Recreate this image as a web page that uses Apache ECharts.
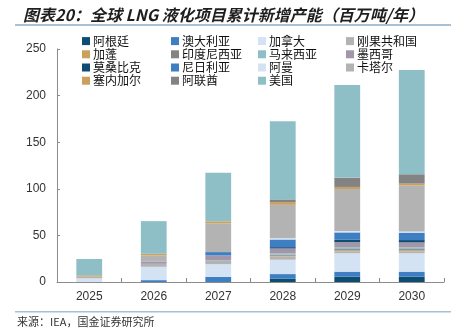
<!DOCTYPE html>
<html>
<head>
<meta charset="utf-8">
<script src="https://cdn.jsdelivr.net/npm/echarts@6/dist/echarts.min.js"></script>
<style>
html,body{margin:0;padding:0;background:#fff;}
#c{width:458px;height:329px;}
</style>
</head>
<body>
<div id="c"></div>
<script>
const years = ['2025','2026','2027','2028','2029','2030'];
const yTicks = [0, 50, 100, 150, 200, 250];
const names = ['阿根廷','澳大利亚','加拿大','刚果共和国','加蓬','印度尼西亚','马来西亚','墨西哥','莫桑比克','尼日利亚','阿曼','卡塔尔','塞内加尔','阿联酋','美国'];
const argentina  = [0, 0, 0, 3.5, 5.7, 5.7];
const australia  = [0, 2, 5.5, 5, 5.4, 5.4];
const canada     = [4, 14.3, 13.6, 15.4, 19.7, 19.7];
const congo      = [1.8, 3.2, 3, 3.6, 2.1, 2.1];
const gabon      = [0, 0, 0, 0.7, 1, 1];
const indonesia  = [0, 0, 0.6, 1, 1.4, 1.4];
const malaysia   = [0, 0, 0.8, 1.4, 2.1, 1.8];
const mexico     = [0, 2.2, 5, 5.4, 5.4, 5.4];
const mozambique = [0, 0, 0, 1.4, 2.5, 2.5];
const nigeria    = [0, 0, 3.6, 8.2, 7.9, 7.9];
const oman       = [0, 0, 0, 1.4, 1.4, 1.4];
const qatar      = [0, 6.8, 30.8, 35.8, 45.2, 49.1];
const senegal    = [1.4, 1.8, 2.2, 2.9, 2.2, 2.2];
const uae        = [0, 0, 0, 2.9, 10, 10];
const usa        = [17.5, 35, 52, 83.9, 99.3, 111.8];

const seriesValues = [argentina, australia, canada, congo, gabon, indonesia, malaysia, mexico, mozambique, nigeria, oman, qatar, senegal, uae, usa];
const colors = ['#0f4c72','#3d7fc2','#d3e3f3','#b3b3b3','#c9a05c','#838383','#8fbfc6','#a396aa',
                '#0f4c72','#3d7fc2','#d3e3f3','#b3b3b3','#c9a05c','#838383','#8fbfc6'];

const chart = echarts.init(document.getElementById('c'), null, {renderer:'canvas'});
const legendCols = [[0,4,8,12],[1,5,9,13],[2,6,10,14],[3,7,11]];
const legendLefts = [82, 171, 258, 346];
const legends = legendCols.map((col, i) => ({
  orient: 'vertical',
  left: legendLefts[i],
  top: 34.5,
  itemWidth: 8,
  itemHeight: 8,
  itemGap: 0,
  icon: 'rect',
  padding: 0,
  selectedMode: false,
  data: col.map(k => names[k]),
  textStyle: {fontSize: 12, color: '#111', fontFamily: 'Noto Sans CJK SC', lineHeight: 13.2, padding: [0,0,0,-2]}
}));

chart.setOption({
  animation: false,
  color: colors,
  title: {
    text: '图表20：全球 LNG 液化项目累计新增产能（百万吨/年）',
    left: 18, top: 2,
    textStyle: {fontSize: 16, fontWeight: 'bold', fontStyle: 'italic', color: '#1e1e1e', fontFamily: 'Noto Sans CJK SC'}
  },
  legend: legends,
  grid: {left: 57, right: 14, top: 49, bottom: 47, containLabel: false},
  xAxis: {
    type: 'category',
    data: years,
    axisLine: {lineStyle: {color: '#8c8c8c', width: 1}},
    axisTick: {show: true, inside: true, length: 4, lineStyle: {color: '#8c8c8c'}},
    axisLabel: {fontSize: 12, color: '#333', fontFamily: 'Liberation Sans', margin: 9}
  },
  yAxis: {
    type: 'value',
    min: 0, max: 250, interval: 50,
    axisLine: {show: true, lineStyle: {color: '#8c8c8c', width: 1}},
    axisTick: {show: true, inside: true, length: 3, lineStyle: {color: '#8c8c8c'}},
    splitLine: {show: false},
    axisLabel: {fontSize: 12, color: '#333', fontFamily: 'Liberation Sans', margin: 11,
      formatter: v => yTicks.includes(v) ? String(v) : ''}
  },
  series: names.map((n, i) => ({
    name: n,
    type: 'bar',
    stack: 'total',
    barWidth: '40%',
    data: seriesValues[i],
    itemStyle: {color: colors[i]}
  })),
  graphic: [
    {type: 'rect', shape: {x: 15, y: 24, width: 436, height: 2}, style: {fill: '#a9c1d3'}},
    {type: 'rect', shape: {x: 15, y: 311, width: 436, height: 1.5}, style: {fill: '#a9c1d3'}},
    {type: 'text', left: 17, top: 316, style: {text: '来源：IEA，国金证券研究所', fontSize: 11, fill: '#333', fontFamily: 'Noto Sans CJK SC'}}
  ]
});
</script>
</body>
</html>
